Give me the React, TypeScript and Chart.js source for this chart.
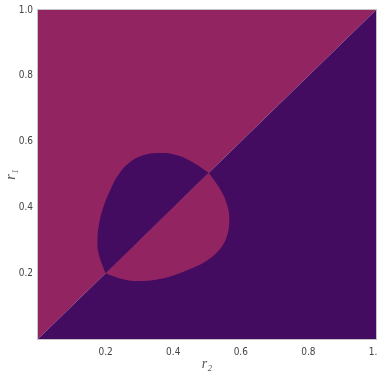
import React, { useEffect, useRef } from "react";
import { Chart, registerables } from "chart.js";

Chart.register(...registerables);

// Region colours
const MAGENTA = "#922462";
const INDIGO = "#430C61";

// Half-plane triangles of the unit square (r2 on x, r1 on y)
const upperTriR2 = [0, 0, 1];
const upperTriR1 = [0, 1, 1];
const lowerTriR2 = [0, 1, 1];
const lowerTriR1 = [0, 0, 1];

// Lobe above the diagonal (swapped colour), traced from tip (0.2,0.2) to tip (0.505,0.505)
const upperLobeR2 = [0.2, 0.179, 0.176, 0.181, 0.194, 0.214, 0.238, 0.268, 0.307, 0.357, 0.406, 0.455, 0.505];
const upperLobeR1 = [0.199, 0.261, 0.302, 0.352, 0.403, 0.453, 0.499, 0.534, 0.557, 0.565, 0.56, 0.539, 0.505];

// Lobe below the diagonal (swapped colour)
const lowerLobeR2 = [0.2, 0.261, 0.302, 0.352, 0.403, 0.453, 0.499, 0.534, 0.557, 0.566, 0.56, 0.539, 0.505];
const lowerLobeR1 = [0.199, 0.179, 0.176, 0.181, 0.194, 0.214, 0.238, 0.268, 0.307, 0.357, 0.406, 0.455, 0.505];

// Ticks
const xTickValues = [0, 0.2, 0.4, 0.6, 0.8, 1];
const xTickLabels = ["", "0.2", "0.4", "0.6", "0.8", "1.0"];
const yTickValues = [0, 0.2, 0.4, 0.6, 0.8, 1];
const yTickLabels = ["", "0.2", "0.4", "0.6", "0.8", "1.0"];

const toPoints = (xs: number[], ys: number[]) => xs.map((x, i) => ({ x, y: ys[i] }));

const W = 377;
const H = 374;

const framePlugin = {
  id: "frame",
  afterDraw(chart: any) {
    const { ctx, chartArea } = chart;
    ctx.save();
    ctx.strokeStyle = "#c4c4c4";
    ctx.lineWidth = 1;
    ctx.strokeRect(
      Math.round(chartArea.left) - 0.5,
      Math.round(chartArea.top) - 0.5,
      Math.round(chartArea.right - chartArea.left) + 1,
      Math.round(chartArea.bottom - chartArea.top) + 1
    );
    ctx.restore();
  },
};

export default function App() {
  const ref = useRef<HTMLCanvasElement>(null);

  useEffect(() => {
    if (!ref.current) return;
    const shape = (xs: number[], ys: number[], color: string, order: number) => ({
      data: toPoints(xs, ys),
      showLine: true,
      fill: "shape" as any,
      backgroundColor: color,
      borderColor: "rgba(0,0,0,0)",
      borderWidth: 0,
      pointRadius: 0,
      pointHoverRadius: 0,
      tension: 0,
      order,
    });
    const lobe = (xs: number[], ys: number[], color: string, order: number) => ({
      ...shape(xs, ys, color, order),
      tension: 0.4,
    });

    const tickFont = { family: "'Liberation Sans Narrow', 'DejaVu Sans Condensed', sans-serif", size: 10 };
    const titleFont = { family: "'Liberation Serif', 'DejaVu Serif', serif", size: 14, style: "italic" as const };

    const chart = new Chart(ref.current, {
      type: "scatter",
      data: {
        datasets: [
          lobe(lowerLobeR2, lowerLobeR1, MAGENTA, 0),
          lobe(upperLobeR2, upperLobeR1, INDIGO, 1),
          shape(lowerTriR2, lowerTriR1, INDIGO, 2),
          shape(upperTriR2, upperTriR1, MAGENTA, 3),
        ],
      },
      options: {
        responsive: false,
        animation: false,
        events: [],
        layout: { padding: { top: 10, right: 1, left: 0, bottom: 0 } },
        plugins: { legend: { display: false }, tooltip: { enabled: false } },
        scales: {
          x: {
            type: "linear",
            min: 0,
            max: 1,
            grid: { display: false, drawTicks: false },
            border: { display: false },
            afterBuildTicks: (s: any) => {
              s.ticks = xTickValues.map((v) => ({ value: v }));
            },
            ticks: {
              autoSkip: false,
              maxRotation: 0,
              padding: 7,
              color: "#444",
              font: tickFont,
              callback: (_v: any, i: number) => xTickLabels[i],
            },
            title: {
              display: true,
              text: "r₂",
              color: "#555",
              font: titleFont,
              padding: { top: 0, bottom: 1 },
            },
            afterFit: (s: any) => {
              s.height = H - 339;
              s.paddingLeft = 0;
              s.paddingRight = 0;
            },
          },
          y: {
            type: "linear",
            min: 0,
            max: 1,
            grid: { display: false, drawTicks: false },
            border: { display: false },
            afterBuildTicks: (s: any) => {
              s.ticks = yTickValues.map((v) => ({ value: v }));
            },
            ticks: {
              autoSkip: false,
              padding: 5,
              color: "#444",
              font: tickFont,
              callback: (_v: any, i: number) => yTickLabels[i],
            },
            title: {
              display: true,
              text: "r₁",
              color: "#555",
              font: titleFont,
              padding: { top: 3, bottom: 0 },
            },
            afterFit: (s: any) => {
              s.width = 38;
              s.paddingTop = 0;
              s.paddingBottom = 0;
            },
          },
        },
      },
      plugins: [framePlugin],
    });
    return () => chart.destroy();
  }, []);

  return (
    <div style={{ position: "fixed", left: 0, top: 0, width: W, height: H, background: "#fff" }}>
      <canvas ref={ref} width={W} height={H} style={{ display: "block" }} />
    </div>
  );
}
